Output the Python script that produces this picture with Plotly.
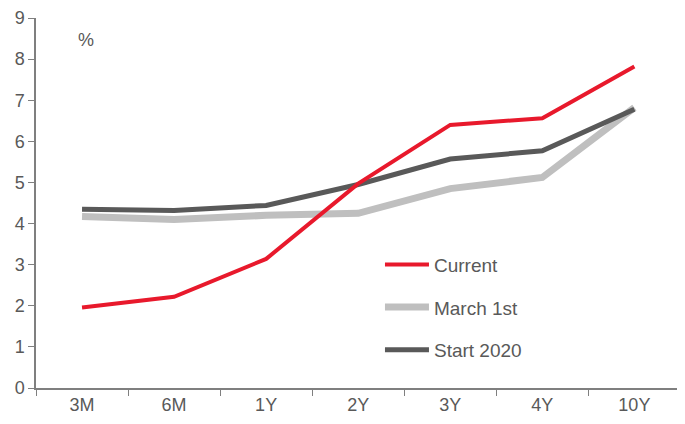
import plotly.graph_objects as go

categories = ["3M", "6M", "1Y", "2Y", "3Y", "4Y", "10Y"]
current = [1.96, 2.22, 3.14, 4.97, 6.40, 6.56, 7.82]
march_1st = [4.17, 4.10, 4.20, 4.25, 4.85, 5.12, 6.82]
start_2020 = [4.35, 4.32, 4.44, 4.95, 5.57, 5.77, 6.78]
y_ticks = list(range(0, 10))

font_family = "Liberation Sans, Arial, sans-serif"
text_color = "#595959"
axis_color = "#7f7f7f"

fig = go.Figure()
fig.add_trace(go.Scatter(x=categories, y=march_1st, name="March 1st", mode="lines",
                         line=dict(color="#bfbfbf", width=7), legendgroup="b", legendrank=2))
fig.add_trace(go.Scatter(x=categories, y=start_2020, name="Start 2020", mode="lines",
                         line=dict(color="#595959", width=5), legendgroup="c", legendrank=3))
fig.add_trace(go.Scatter(x=categories, y=current, name="Current", mode="lines",
                         line=dict(color="#e8192c", width=4), legendgroup="a", legendrank=1))

# page body adds an 8px offset; margins compensate so the plot sits where the reference has it
fig.update_layout(
    width=685, height=424,
    margin=dict(l=28, r=8, t=10, b=44, autoexpand=False),
    paper_bgcolor="white", plot_bgcolor="white",
    font=dict(family=font_family, size=18, color=text_color),
    showlegend=True,
    legend=dict(x=0.530, xanchor="left", y=0.385, yanchor="top",
                bgcolor="rgba(0,0,0,0)", font=dict(size=19, color=text_color),
                traceorder="grouped", tracegroupgap=15, itemwidth=44),
    xaxis=dict(type="category", categoryorder="array", categoryarray=categories,
               range=[-0.5, 6.55], showgrid=False, zeroline=False, automargin=False,
               showline=True, linecolor=axis_color, linewidth=1.5,
               ticks="outside", tickson="boundaries", ticklen=6, tickcolor=axis_color,
               tickfont=dict(size=18, color=text_color)),
    yaxis=dict(range=[0, 9], tickvals=y_ticks, showgrid=False, zeroline=False, automargin=False,
               showline=True, linecolor=axis_color, linewidth=1.5,
               ticks="outside", ticklen=6, tickcolor=axis_color,
               ticklabeloverflow="allow",
               tickfont=dict(size=18, color=text_color)),
    annotations=[dict(text="%", x=0.077, y=0.94, xref="paper", yref="paper",
                      xanchor="center", yanchor="middle",
                      showarrow=False, font=dict(size=18, color=text_color))],
)

fig.write_html("out.html")
